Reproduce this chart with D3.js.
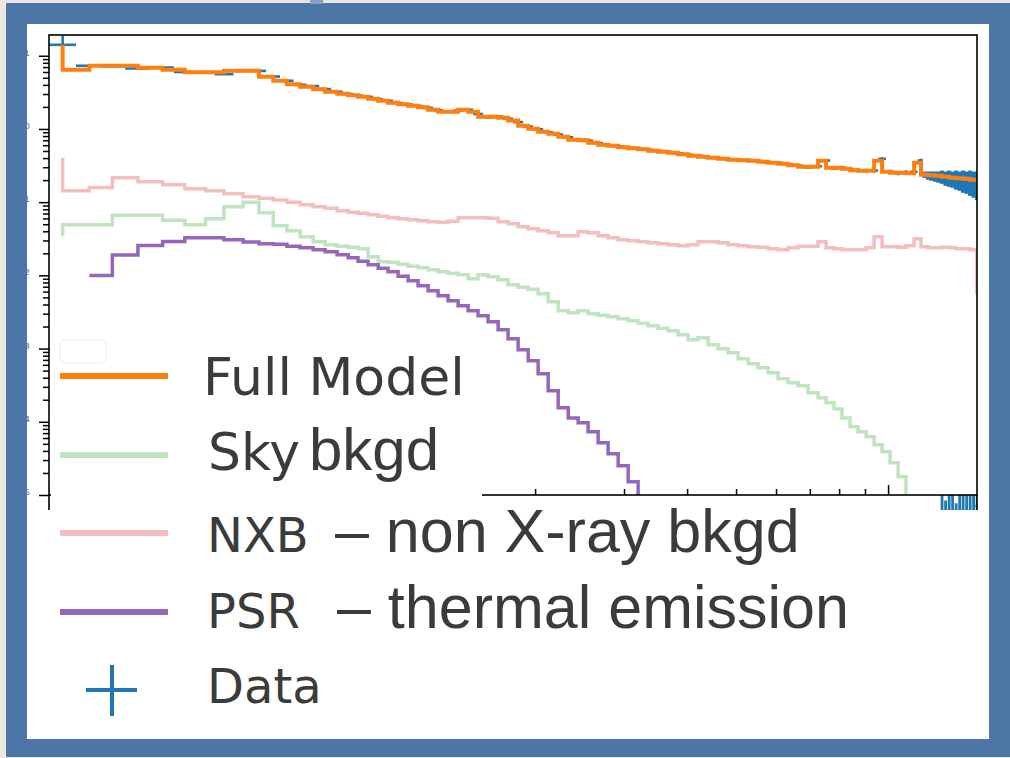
<!DOCTYPE html>
<html>
<head>
<meta charset="utf-8">
<script src="https://cdn.jsdelivr.net/npm/d3@7/dist/d3.min.js"></script>
<style>
  html, body { margin: 0; padding: 0; background: #ebe7e0; }
  svg { display: block; }
</style>
</head>
<body>
<svg id="chart" width="1010" height="758"></svg>
<script>
// ---- X-ray spectrum: energies in keV, rates in counts/s/keV ----
// Model channel grid (step points, drawn "pre"-style)
const energy = [
  0.232, 0.262, 0.291, 0.327, 0.366, 0.405, 0.445, 0.484, 0.528, 0.568,
  0.606, 0.645, 0.685, 0.727, 0.768, 0.811, 0.853, 0.892, 0.934, 0.978,
  1.023, 1.071, 1.121, 1.173, 1.228, 1.285, 1.345, 1.408, 1.474, 1.542,
  1.614, 1.690, 1.768, 1.851, 1.938, 2.028, 2.123, 2.222, 2.326, 2.434,
  2.547, 2.666, 2.790, 2.921, 3.057, 3.199, 3.348, 3.504, 3.667, 3.838,
  4.018, 4.205, 4.401, 4.607, 4.822, 5.047, 5.282, 5.529, 5.787, 6.057,
  6.339, 6.635, 6.944, 7.268, 7.538, 7.818, 8.108, 8.410, 8.722, 9.046,
  9.382, 9.730, 10.09, 10.47, 10.85, 11.26, 11.62, 12.00, 12.39, 12.79,
  13.21, 13.64, 14.08, 14.54, 14.98, 15.56
];

const fullModel = [
  14.1, 6.44, 7.30, 7.30, 6.86, 6.44, 5.95, 5.95, 6.24, 6.24,
  5.16, 4.55, 4.08, 3.77, 3.48, 3.22, 3.03, 2.89, 2.76, 2.59,
  2.43, 2.28, 2.18, 2.08, 1.98, 1.83, 1.72, 1.72, 1.83, 1.72,
  1.47, 1.47, 1.42, 1.30, 1.11, 1.01, 0.916, 0.860, 0.782, 0.712,
  0.701, 0.648, 0.608, 0.589, 0.562, 0.545, 0.528, 0.503, 0.488, 0.473,
  0.451, 0.430, 0.417, 0.404, 0.391, 0.379, 0.373, 0.367, 0.356, 0.345,
  0.334, 0.319, 0.304, 0.304, 0.367, 0.295, 0.295, 0.286, 0.273, 0.269,
  0.269, 0.367, 0.261, 0.253, 0.253, 0.249, 0.345, 0.237, 0.233, 0.230,
  0.222, 0.216, 0.212, 0.209, 0.202, 0.202
];

const skyBkgd = [
  0.0347, 0.0491, 0.0491, 0.0662, 0.0662, 0.0565, 0.0491, 0.0593, 0.0865, 0.0997,
  0.0716, 0.0476, 0.0407, 0.0337, 0.0288, 0.0262, 0.0250, 0.0242, 0.0231, 0.0180,
  0.0153, 0.0151, 0.0142, 0.0133, 0.0127, 0.0119, 0.0112, 0.0107, 0.0102, 0.00899,
  0.0102, 0.00957, 0.00871, 0.00744, 0.00688, 0.00646, 0.00561, 0.00436, 0.00328, 0.00308,
  0.00328, 0.00299, 0.00285, 0.00272, 0.00255, 0.00240, 0.00222, 0.00205, 0.00190, 0.00175,
  0.00154, 0.00132, 0.00141, 0.00113, 0.000994, 0.000876, 0.000726, 0.000620, 0.000547, 0.000467,
  0.000387, 0.000341, 0.000310, 0.000249, 0.000213, 0.000182, 0.000150, 0.000113, 8.54e-5, 7.30e-5,
  6.24e-5, 4.85e-5, 3.89e-5, 2.76e-5, 1.78e-5, 8.6e-6, 3.3e-6
];

const nxb = [
  0.404, 0.143, 0.158, 0.216, 0.190, 0.173, 0.153, 0.143, 0.130, 0.119,
  0.113, 0.107, 0.0998, 0.0922, 0.0865, 0.0825, 0.0763, 0.0728, 0.0705, 0.0673,
  0.0642, 0.0612, 0.0593, 0.0575, 0.0557, 0.0540, 0.0531, 0.0548, 0.0612, 0.0612,
  0.0612, 0.0602, 0.0540, 0.0507, 0.0461, 0.0433, 0.0407, 0.0382, 0.0347, 0.0347,
  0.0394, 0.0382, 0.0347, 0.0326, 0.0306, 0.0297, 0.0288, 0.0279, 0.0270, 0.0262,
  0.0254, 0.0262, 0.0288, 0.0288, 0.0279, 0.0262, 0.0254, 0.0246, 0.0242, 0.0231,
  0.0224, 0.0238, 0.0250, 0.0250, 0.0288, 0.0238, 0.0231, 0.0224, 0.0224, 0.0224,
  0.0238, 0.0337, 0.0246, 0.0246, 0.0242, 0.0254, 0.0316, 0.0246, 0.0238, 0.0238,
  0.0242, 0.0238, 0.0231, 0.0231, 0.0224, 0.00579
];

// thermal pulsar component; null where the model is zero
const psr = [
  null, 0.00997, 0.00997, 0.0190, 0.0256, 0.0290, 0.0326, 0.0326, 0.0306, 0.0285,
  0.0270, 0.0266, 0.0249, 0.0238, 0.0224, 0.0210, 0.0191, 0.0174, 0.0156, 0.0140,
  0.0125, 0.0112, 0.00972, 0.00844, 0.00721, 0.00616, 0.00526, 0.00450, 0.00384, 0.00328,
  0.00280, 0.00232, 0.00181, 0.00136, 0.000963, 0.000681, 0.000452, 0.000265, 0.000155, 0.000113,
  9.69e-5, 7.30e-5, 5.16e-5, 3.65e-5, 2.51e-5, 1.52e-5, 7.35e-6
];

// observed spectrum: the first 77 channels share the model grid, then finer channels
const denseEnergy = [
  11.81, 12.00, 12.19, 12.39, 12.59, 12.79, 13.00, 13.21, 13.42, 13.64,
  13.86, 14.08, 14.31, 14.54, 14.77, 15.01
];
const dataRate = [
  14.1, 7.30, 7.20, 6.70, 6.90, 6.00, 5.95, 5.60, 6.20, 6.20,
  5.20, 4.55, 4.00, 3.85, 3.50, 3.22, 3.00, 2.86, 2.74, 2.55,
  2.42, 2.26, 2.15, 2.06, 1.94, 1.80, 1.74, 1.78, 1.83, 1.60,
  1.45, 1.48, 1.38, 1.24, 1.08, 0.99, 0.90, 0.84, 0.77, 0.71,
  0.69, 0.64, 0.60, 0.58, 0.555, 0.54, 0.52, 0.50, 0.485, 0.465,
  0.445, 0.43, 0.41, 0.40, 0.385, 0.38, 0.375, 0.365, 0.35, 0.345,
  0.33, 0.315, 0.30, 0.31, 0.37, 0.29, 0.295, 0.283, 0.273, 0.27,
  0.27, 0.39, 0.26, 0.25, 0.255, 0.26, 0.37,
  0.238, 0.232, 0.229, 0.226, 0.223, 0.224, 0.214, 0.216, 0.209, 0.209,
  0.202, 0.202, 0.196, 0.196, 0.188, 0.184
];
const dataError = [
  4.5, 0.20, 0.18, 0.16, 0.16, 0.14, 0.13, 0.12, 0.13, 0.13,
  0.11, 0.10, 0.09, 0.09, 0.08, 0.08, 0.07, 0.07, 0.07, 0.06,
  0.06, 0.06, 0.05, 0.05, 0.05, 0.05, 0.05, 0.05, 0.05, 0.045,
  0.04, 0.04, 0.04, 0.035, 0.03, 0.03, 0.028, 0.026, 0.024, 0.022,
  0.022, 0.02, 0.02, 0.02, 0.019, 0.019, 0.018, 0.018, 0.018, 0.017,
  0.017, 0.016, 0.016, 0.016, 0.016, 0.016, 0.016, 0.016, 0.016, 0.016,
  0.016, 0.016, 0.016, 0.016, 0.02, 0.016, 0.016, 0.016, 0.016, 0.016,
  0.017, 0.022, 0.017, 0.017, 0.018, 0.018, 0.022,
  0.023, 0.030, 0.033, 0.036, 0.039, 0.046, 0.047, 0.054, 0.052, 0.061,
  0.059, 0.068, 0.066, 0.074, 0.073, 0.077
];

// residuals (sigma) of the fine high-energy channels, lower panel
const residual = [0.4, -0.3, 0.2, -0.5, 0.1, 1.5, -0.8, 2.1, 0.6, -1.2, 1.8, 0.3, 2.4, -0.4, 1.1, 2.6];
const residualError = [1.0, 1.0, 1.1, 1.1, 1.2, 3.4, 3.6, 3.5, 3.8, 3.9, 3.7, 4.0, 4.1, 4.2, 4.3, 4.4];

// axis ticks
const yMajorTicks = [1e-5, 1e-4, 1e-3, 1e-2, 1e-1, 1, 10];
const yTickLabels = ["10⁻⁵", "10⁻⁴", "10⁻³", "10⁻²", "10⁻¹", "10⁰", "10¹"];
const xMajorTicks = [1, 10];

// legend text
const legendNames = ["Full Model", "Sky", "NXB", "PSR", "Data"];
const legendNotes = ["", "bkgd", "– non X-ray bkgd", "– thermal emission", ""];

// ---------------------------------------------------------------
const W = 1010, H = 758;
const svg = d3.select("#chart");

// backdrop, blue frame and white card
svg.append("rect").attr("width", W).attr("height", H).attr("fill", "#ebe7e0");
svg.append("rect").attr("x", 6).attr("y", 3).attr("width", W - 6).attr("height", 754).attr("fill", "#4b76a5");
svg.append("rect").attr("x", 310).attr("y", 0).attr("width", 13).attr("height", 4).attr("fill", "#86a0c2");
svg.append("rect").attr("x", 27).attr("y", 24).attr("width", 962).attr("height", 715).attr("fill", "#ffffff");

const plotL = 49, plotR = 977, plotT = 35, plotB = 495, residB = 660;

const defs = svg.append("defs");
defs.append("clipPath").attr("id", "card-clip")
  .append("rect").attr("x", 27).attr("y", 24).attr("width", 962).attr("height", 715);
defs.append("clipPath").attr("id", "plot-clip")
  .append("rect").attr("x", plotL).attr("y", plotT).attr("width", plotR - plotL).attr("height", plotB - plotT);
defs.append("clipPath").attr("id", "resid-clip")
  .append("rect").attr("x", plotL).attr("y", plotB).attr("width", plotR - plotL).attr("height", residB - plotB);

const card = svg.append("g").attr("clip-path", "url(#card-clip)");

const x = d3.scaleLog().domain([0.218, 15.0]).range([plotL, plotR]);
const y = d3.scaleLog().domain([1e-5, 19.2]).range([plotB, plotT]);
const yRes = d3.scaleLinear().domain([-3, 3]).range([residB, plotB]);

// ---- spectrum panel ----
const plot = card.append("g").attr("clip-path", "url(#plot-clip)");

const dataEnergy = energy.slice(0, 77).concat(denseEnergy);
const nData = dataEnergy.length;
// channel extents: geometric midpoints between neighbouring channel centres
const chan = dataEnergy.map((e, i) => {
  const lo = i > 0 ? Math.sqrt(dataEnergy[i - 1] * e) : e * e / Math.sqrt(e * dataEnergy[1]);
  const hi = i < nData - 1 ? Math.sqrt(e * dataEnergy[i + 1]) : e * e / Math.sqrt(dataEnergy[i - 1] * e);
  return { e, lo, hi, v: dataRate[i], err: dataError[i] };
});

// narrow channels merge into a solid band, wide ones keep thin error bars
const barWidth = d => {
  const w = x(d.hi) - x(d.lo);
  return w < 5 ? Math.max(2.6, w + 0.9) : 2.6;
};

const dataG = plot.append("g").attr("stroke", "#1f77b4").attr("fill", "none");
dataG.selectAll("line.h").data(chan).join("line").attr("class", "h")
  .attr("stroke-width", 2.6)
  .attr("x1", d => x(d.lo)).attr("x2", d => x(d.hi))
  .attr("y1", d => y(d.v)).attr("y2", d => y(d.v));
dataG.selectAll("line.v").data(chan).join("line").attr("class", "v")
  .attr("stroke-width", barWidth)
  .attr("x1", d => x(d.e)).attr("x2", d => x(d.e))
  .attr("y1", d => y(Math.max(d.v - d.err, 1e-8))).attr("y2", d => y(d.v + d.err));

const step = d3.line()
  .defined(d => d[1] != null)
  .x(d => x(d[0])).y(d => y(d[1]))
  .curve(d3.curveStepBefore);

const models = [
  { values: fullModel, color: "#ff7f0e", width: 4 },
  { values: skyBkgd,   color: "#c0e3c0", width: 3.5 },
  { values: nxb,       color: "#f3bebe", width: 3.5 },
  { values: psr,       color: "#9467bd", width: 3.5 }
];
models.forEach(m => {
  plot.append("path")
    .datum(m.values.map((v, i) => [energy[i], v]))
    .attr("d", step)
    .attr("fill", "none")
    .attr("stroke", m.color)
    .attr("stroke-width", m.width)
    .attr("stroke-linejoin", "miter");
});

// ---- residual panel ----
const resG = card.append("g").attr("clip-path", "url(#resid-clip)").attr("stroke", "#1f77b4");
const resPts = denseEnergy.map((e, i) => ({ e, r: residual[i], err: residualError[i] }));
resG.selectAll("line.v").data(resPts).join("line").attr("class", "v")
  .attr("stroke-width", 2.8)
  .attr("x1", d => x(d.e)).attr("x2", d => x(d.e))
  .attr("y1", d => yRes(d.r - d.err)).attr("y2", d => yRes(d.r + d.err));
resG.selectAll("line.h").data(resPts).join("line").attr("class", "h")
  .attr("stroke-width", 2.6)
  .attr("x1", d => x(d.e) - 1.75).attr("x2", d => x(d.e) + 1.75)
  .attr("y1", d => yRes(d.r)).attr("y2", d => yRes(d.r));

// ---- axes ----
const yMinorTicks = [];
yMajorTicks.forEach(m => {
  for (let k = 2; k <= 9; k++) { const t = m * k; if (t < y.domain()[1]) yMinorTicks.push(t); }
});
const xMinorTicks = [];
[0.1, 1].forEach(m => {
  for (let k = 2; k <= 9; k++) { const t = m * k; if (t > x.domain()[0] && t < x.domain()[1]) xMinorTicks.push(t); }
});

function styleAxis(g) {
  g.select(".domain").remove();
  g.selectAll(".tick line").attr("stroke", "#000").attr("stroke-width", 1.5);
}
card.append("g").attr("transform", `translate(${plotL},0)`)
  .call(d3.axisLeft(y).tickValues(yMajorTicks).tickSize(10).tickFormat("")).call(styleAxis);
card.append("g").attr("transform", `translate(${plotL},0)`)
  .call(d3.axisLeft(y).tickValues(yMinorTicks).tickSize(6).tickFormat("")).call(styleAxis);
card.append("g").attr("transform", `translate(0,${plotB})`)
  .call(d3.axisTop(x).tickValues(xMajorTicks).tickSize(10).tickFormat("")).call(styleAxis);
card.append("g").attr("transform", `translate(0,${plotB})`)
  .call(d3.axisTop(x).tickValues(xMinorTicks).tickSize(6).tickFormat("")).call(styleAxis);

// y tick labels sit mostly behind the card's blue border
card.selectAll("text.ylab").data(yMajorTicks).join("text").attr("class", "ylab")
  .attr("x", 30).attr("y", d => y(d) + 5)
  .attr("text-anchor", "end")
  .attr("font-family", "DejaVu Sans").attr("font-size", 15).attr("fill", "#777")
  .text((d, i) => yTickLabels[i]);

// frames
card.append("rect").attr("x", plotL).attr("y", plotT)
  .attr("width", plotR - plotL).attr("height", plotB - plotT)
  .attr("fill", "none").attr("stroke", "#000").attr("stroke-width", 1.6);
[plotL, plotR].forEach(px => {
  card.append("line").attr("x1", px).attr("x2", px).attr("y1", plotB).attr("y2", residB)
    .attr("stroke", "#000").attr("stroke-width", 1.6);
});

// ---- legend (on an opaque white patch) ----
card.append("rect").attr("x", 51).attr("y", 330).attr("width", 431).attr("height", 181).attr("fill", "#fff");
card.append("rect").attr("x", 27).attr("y", 510).attr("width", 962).attr("height", 229).attr("fill", "#fff");
card.append("rect").attr("x", 60).attr("y", 340).attr("width", 46).attr("height", 23).attr("rx", 5)
  .attr("fill", "none").attr("stroke", "#ececec").attr("stroke-width", 1);

const legend = card.append("g");
const markerY = [376, 455, 533, 612, 690];
const baseY = [395, 470, 552, 628, 703];
const nameX = [203, 208, 207, 207, 207];
const nameSize = [52, 52, 48, 48, 48];
const noteX = [0, 309, 335, 337, 0];
const noteSize = [0, 60, 61, 61, 0];
const markerColor = ["#ff7f0e", "#c0e3c0", "#f3bebe", "#9467bd"];

markerColor.forEach((c, i) => {
  legend.append("line").attr("x1", 60).attr("x2", 168)
    .attr("y1", markerY[i]).attr("y2", markerY[i])
    .attr("stroke", c).attr("stroke-width", 6);
});
legend.append("line").attr("x1", 86).attr("x2", 137).attr("y1", markerY[4]).attr("y2", markerY[4])
  .attr("stroke", "#1f77b4").attr("stroke-width", 4);
legend.append("line").attr("x1", 112).attr("x2", 112).attr("y1", 665).attr("y2", 716)
  .attr("stroke", "#1f77b4").attr("stroke-width", 4);

legendNames.forEach((name, i) => {
  legend.append("text").attr("x", nameX[i]).attr("y", baseY[i])
    .attr("font-family", "DejaVu Sans").attr("font-size", nameSize[i])
    .attr("fill", "#3b3b3b").text(name);
  if (legendNotes[i]) {
    legend.append("text").attr("x", noteX[i]).attr("y", baseY[i])
      .attr("font-family", "Liberation Sans").attr("font-size", noteSize[i])
      .attr("fill", "#3b3b3b").text(legendNotes[i]);
  }
});
</script>
</body>
</html>
